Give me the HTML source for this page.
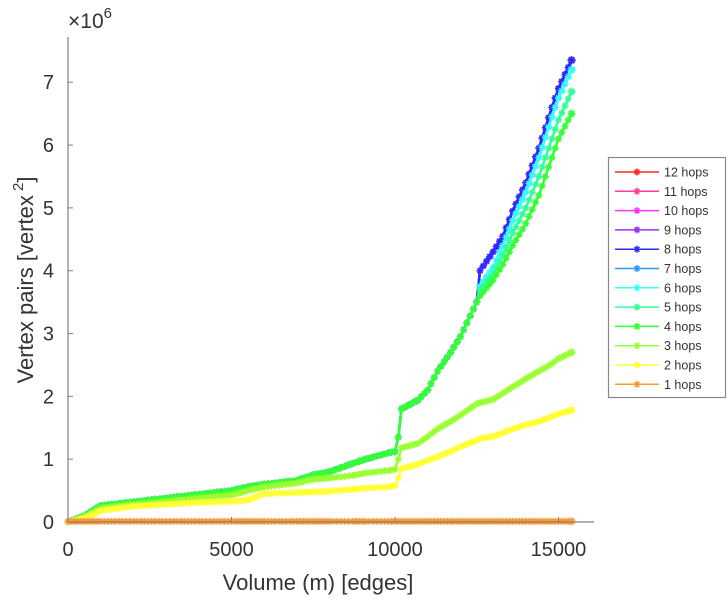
<!DOCTYPE html>
<html><head><meta charset="utf-8"><style>
body{margin:0;background:#fff;}
svg text{font-family:"Liberation Sans",sans-serif;fill:#333;}
</style></head><body>
<svg id="chart" width="728" height="600" xmlns="http://www.w3.org/2000/svg">
<g id="plot"></g>
<g id="axes"></g>
<text x="68" y="28" font-size="21">×10<tspan dy="-10" font-size="15">6</tspan></text>
<text x="318" y="590" font-size="22" text-anchor="middle">Volume (m) [edges]</text>
<text transform="translate(33,280) rotate(-90)" font-size="22" text-anchor="middle">Vertex pairs [vertex<tspan dy="-10" font-size="15"> 2</tspan><tspan dy="10">]</tspan></text>
<g id="legend"></g>
</svg>
<script>
const xs=[0,500,1000,2000,3000,4000,5000,5500,6000,7000,7500,8000,8700,9100,9800,10000,10100,10200,10700,11000,11300,11700,12000,12500,12600,13000,13300,13600,14000,14400,14800,15000,15400];
const base=[0,0.1,0.26,0.32,0.38,0.44,0.5,0.56,0.6,0.66,0.75,0.8,0.93,1.0,1.1,1.12,1.35,1.8,1.94,2.1,2.4,2.7,2.95,3.5];
const h9=base.concat([4.0,4.3,4.55,4.95,5.4,5.95,6.6,6.9,7.35]);
const h7=base.concat([3.75,4.05,4.4,4.8,5.25,5.8,6.45,6.75,7.2]);
const h5=base.concat([3.7,3.95,4.25,4.6,5.0,5.5,6.1,6.4,6.85]);
const h4=base.concat([3.6,3.85,4.1,4.4,4.75,5.2,5.8,6.1,6.5]);
const h3=[0,0.08,0.22,0.28,0.33,0.38,0.43,0.5,0.56,0.62,0.68,0.7,0.74,0.78,0.82,0.84,1.0,1.18,1.25,1.36,1.48,1.6,1.7,1.88,1.9,1.95,2.05,2.15,2.28,2.4,2.52,2.6,2.7];
const h2=[0,0.06,0.18,0.25,0.28,0.31,0.33,0.35,0.45,0.47,0.48,0.49,0.52,0.54,0.56,0.58,0.7,0.85,0.92,0.98,1.04,1.12,1.2,1.3,1.33,1.36,1.42,1.48,1.55,1.6,1.68,1.72,1.78];
const h1=[0.01,0.01,0.01,0.01,0.01,0.01,0.01,0.01,0.01,0.01,0.01,0.01,0.01,0.01,0.01,0.01,0.01,0.01,0.01,0.01,0.01,0.01,0.01,0.01,0.01,0.01,0.01,0.01,0.01,0.01,0.01,0.01,0.01];
const seriesNames=["12 hops","11 hops","10 hops","9 hops","8 hops","7 hops","6 hops","5 hops","4 hops","3 hops","2 hops","1 hops"];
const seriesVals=[h9,h9,h9,h9,h9,h7,h7,h5,h4,h3,h2,h1];
const seriesColors=["#ff2a2a","#ff3d9e","#ff33ff","#9933ff","#2b2bff","#3399ff","#33ffff","#33ff99","#33ff33","#99ff33","#ffff33","#ff9933"];
const xTicks=[0,5000,10000,15000];
const yTicks=[0,1,2,3,4,5,6,7];
const L=68,R=594,T=37,B=522,XMAX=16086,YMAX=7.72;
const sx=v=>L+v/XMAX*(R-L), sy=v=>B-v/YMAX*(B-T);
const NS="http://www.w3.org/2000/svg";
function mk(t,a,p){const e=document.createElementNS(NS,t);for(const k in a)e.setAttribute(k,a[k]);p.appendChild(e);return e;}
const plot=document.getElementById('plot'),axes=document.getElementById('axes'),leg=document.getElementById('legend');
function star(g,x,y,c,s,w){const p=`M${x-s},${y}H${x+s}M${x},${y-s}V${y+s}M${x-s*.7},${y-s*.7}L${x+s*.7},${y+s*.7}M${x-s*.7},${y+s*.7}L${x+s*.7},${y-s*.7}`;
 return mk('path',{d:p,stroke:c,'stroke-width':w||1.5,fill:'none'},g);}
seriesVals.forEach((vals,i)=>{
 const g=mk('g',{},plot);
 
 
 const pts=[];
 for(let j=0;j<xs.length;j++)pts.push(sx(xs[j]).toFixed(1)+','+sy(vals[j]).toFixed(1));
 mk('polyline',{points:pts.join(' '),fill:'none',stroke:seriesColors[i],'stroke-width':2.5},g);
 let d='';
 for(let j=0;j<xs.length-1;j++){const n=Math.max(1,Math.round((xs[j+1]-xs[j])/110));
  for(let k=0;k<n;k++){const f=k/n;const x=sx(xs[j]+(xs[j+1]-xs[j])*f),y=sy(vals[j]+(vals[j+1]-vals[j])*f),s=3.5;
   d+=`M${x-s},${y}H${x+s}M${x},${y-s}V${y+s}M${x-s*.7},${y-s*.7}L${x+s*.7},${y+s*.7}M${x-s*.7},${y+s*.7}L${x+s*.7},${y-s*.7}`;}}
 mk('path',{d:d,stroke:seriesColors[i],'stroke-width':1.5,fill:'none'},g);
 star(g,sx(xs[xs.length-1]),sy(vals[vals.length-1]),seriesColors[i],4,1.8);
});
mk('line',{x1:L,y1:T,x2:L,y2:B,stroke:'#808080','stroke-width':1.2},axes);
mk('line',{x1:L,y1:B,x2:R,y2:B,stroke:'#808080','stroke-width':1.2},axes);
xTicks.forEach(v=>{mk('line',{x1:sx(v),y1:B,x2:sx(v),y2:B-5,stroke:'#808080'},axes);
 const t=mk('text',{x:sx(v),y:556,'font-size':20,'text-anchor':'middle'},axes);t.textContent=v;
 
 });
yTicks.forEach(v=>{mk('line',{x1:L,y1:sy(v),x2:L+5,y2:sy(v),stroke:'#808080'},axes);
 const t=mk('text',{x:L-14,y:sy(v)+7,'font-size':20,'text-anchor':'end'},axes);t.textContent=v;
 
 });
mk('rect',{x:608.5,y:157.5,width:117,height:240,fill:'#fff',stroke:'#888','stroke-width':1.2},leg);
seriesNames.forEach((n,i)=>{const y=172+i*19.3;
 const g=mk('g',{},leg);
 
 
 mk('line',{x1:615,y1:y,x2:659,y2:y,stroke:seriesColors[i],'stroke-width':1.5},g);
 star(g,637,y,seriesColors[i],3.5);
 const t=mk('text',{x:664,y:y+4.5,'font-size':12.5},g);t.textContent=n;});
</script>
</body></html>
